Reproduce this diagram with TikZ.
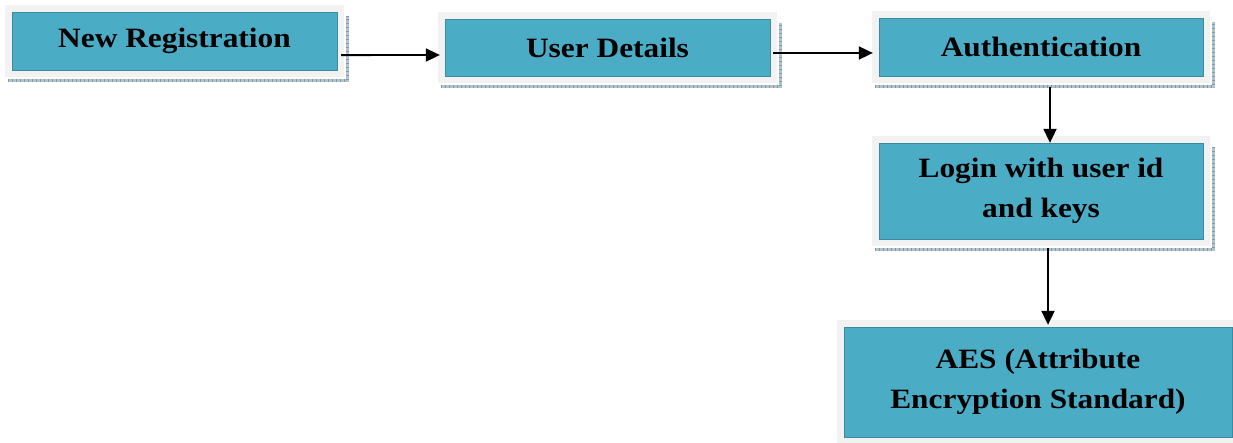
\documentclass[tikz,border=0pt]{standalone}
\usepackage{fontspec}
\newfontfamily\boxfont[FakeStretch=1.12]{Liberation Serif}
\usetikzlibrary{arrows.meta,backgrounds}
\definecolor{teal1}{HTML}{4BACC6}
\definecolor{frame1}{HTML}{F2F2F2}
\definecolor{shad}{HTML}{7F9BAA}
\tikzset{
  box/.style={fill=teal1, draw=teal1!80!black, line width=0.3pt, inner sep=0pt,
    align=center, font=\boxfont\bfseries\fontsize{28}{40}\selectfont},
  arr/.style={line width=1.8pt, -{Triangle[length=14pt,width=13pt]}},
}
\newcommand{\myframebox}[2][1]{%
  \fill[frame1] ([xshift=-7pt,yshift=7pt]#2.north west) rectangle ([xshift=7pt,yshift=-7pt]#2.south east);
  \ifnum#1=1
  \draw[shad!60, line width=3pt] ([xshift=-4pt,yshift=-10.5pt]#2.south west) -- ([xshift=10.5pt,yshift=-10.5pt]#2.south east) -- ([xshift=10.5pt,yshift=-4pt]#2.north east);
  \draw[shad, line width=3pt, dash pattern=on 1pt off 3pt] ([xshift=-4pt,yshift=-10.5pt]#2.south west) -- ([xshift=10.5pt,yshift=-10.5pt]#2.south east) -- ([xshift=10.5pt,yshift=-4pt]#2.north east);
  \fi
}
\begin{document}
\begin{tikzpicture}[x=1pt,y=-1pt]
\useasboundingbox (0,0) rectangle (1233,443);
\node[box, minimum width=325pt, minimum height=58pt] (b1) at (174.5,41) {New Registration};
\node[box, minimum width=325pt, minimum height=57pt] (b2) at (607.5,47.5) {User Details};
\node[box, minimum width=324pt, minimum height=58pt] (b3) at (1041,47) {Authentication};
\node[box, minimum width=324pt, minimum height=96pt] (b4) at (1041,191) {Login with user id\\and keys};
\node[box, minimum width=388pt, minimum height=110pt] (b5) at (1038,382) {AES (Attribute\\Encryption Standard)};
\begin{scope}[on background layer]
\myframebox{b1}
\myframebox{b2}
\myframebox{b3}
\myframebox{b4}
\myframebox[0]{b5}
\end{scope}
\draw[arr] ([xshift=4pt,yshift=15pt]b1.south east) -- ([xshift=-5pt,yshift=-7.5pt]b2.west);
\draw[arr] ([xshift=3pt,yshift=-5.5pt]b2.east) -- ([xshift=-6pt,yshift=-6pt]b3.west);
\draw[arr] ([xshift=9pt,yshift=-11pt]b3.south) -- ([xshift=9pt]b4.north);
\draw[arr] ([xshift=7pt,yshift=-9pt]b4.south) -- ([xshift=10pt,yshift=2pt]b5.north);
\end{tikzpicture}
\end{document}
